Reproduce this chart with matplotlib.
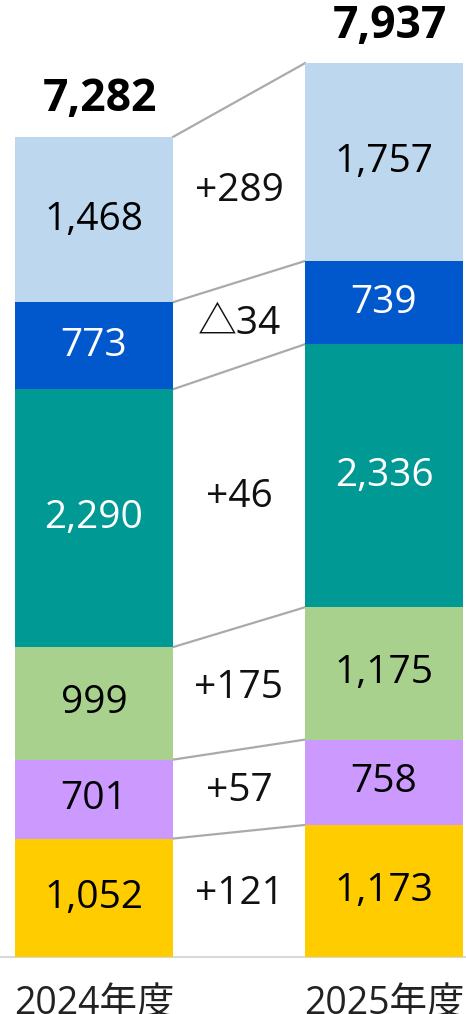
import matplotlib
matplotlib.use("Agg")
import matplotlib.pyplot as plt

plt.rcParams['font.family'] = ['Open Sans', 'Noto Sans CJK JP', 'DejaVu Sans']

# ----------------------------
# Data
# ----------------------------
years = ["2024年度", "2025年度"]
seg_2024 = [1052, 701, 999, 2290, 773, 1468]   # bottom -> top
seg_2025 = [1173, 758, 1175, 2336, 739, 1757]
totals = [7282, 7937]
diff_labels = ["+121", "+57", "+175", "+46", "△34", "+289"]
colors = ["#FFCC00", "#CC99FF", "#A9D18E", "#009994", "#0058CC", "#BDD7EE"]
text_colors = ["black", "black", "black", "white", "white", "black"]

# ----------------------------
# Figure setup
# ----------------------------
fig = plt.figure(figsize=(4.66, 10.14), dpi=100)
ax = fig.add_axes([0, 0, 1, 1])
ax.set_xlim(-94 / 290, (466 - 94) / 290)
ax.set_ylim(-506, 8499)
ax.axis("off")

w = 158 / 290
xs = [0, 1]

bottoms = [0, 0]
for i in range(len(colors)):
    vals = [seg_2024[i], seg_2025[i]]
    for j in range(2):
        ax.bar(xs[j], vals[j], width=w, bottom=bottoms[j], color=colors[i],
               edgecolor="none", zorder=2)
        ax.text(xs[j], bottoms[j] + vals[j] / 2, f"{vals[j]:,}", ha="center",
                va="center", fontsize=28, fontweight="medium",
                color=text_colors[i], zorder=3)
    mid = (bottoms[0] + seg_2024[i] / 2 + bottoms[1] + seg_2025[i] / 2) / 2
    ax.text(0.5, mid, diff_labels[i], ha="center", va="center", fontsize=28,
            color="#111111")
    bottoms = [bottoms[0] + vals[0], bottoms[1] + vals[1]]
    # connector line at the top of this segment
    ax.plot([w / 2, 1 - w / 2], bottoms, color="#AAAAAA", lw=1.6, zorder=1)

# totals
for j in range(2):
    ax.text(xs[j] + 0.02, bottoms[j] + 130, f"{totals[j]:,}", ha="center",
            va="bottom", fontsize=32, fontweight="bold", color="black")

# baseline
ax.axhline(0, color="#D9D9D9", lw=1.5, zorder=1)

# year labels
for j in range(2):
    ax.text(xs[j], -250, years[j], ha="center", va="top", fontsize=27,
            color="#222222")

fig.savefig("out.png", dpi=100)
